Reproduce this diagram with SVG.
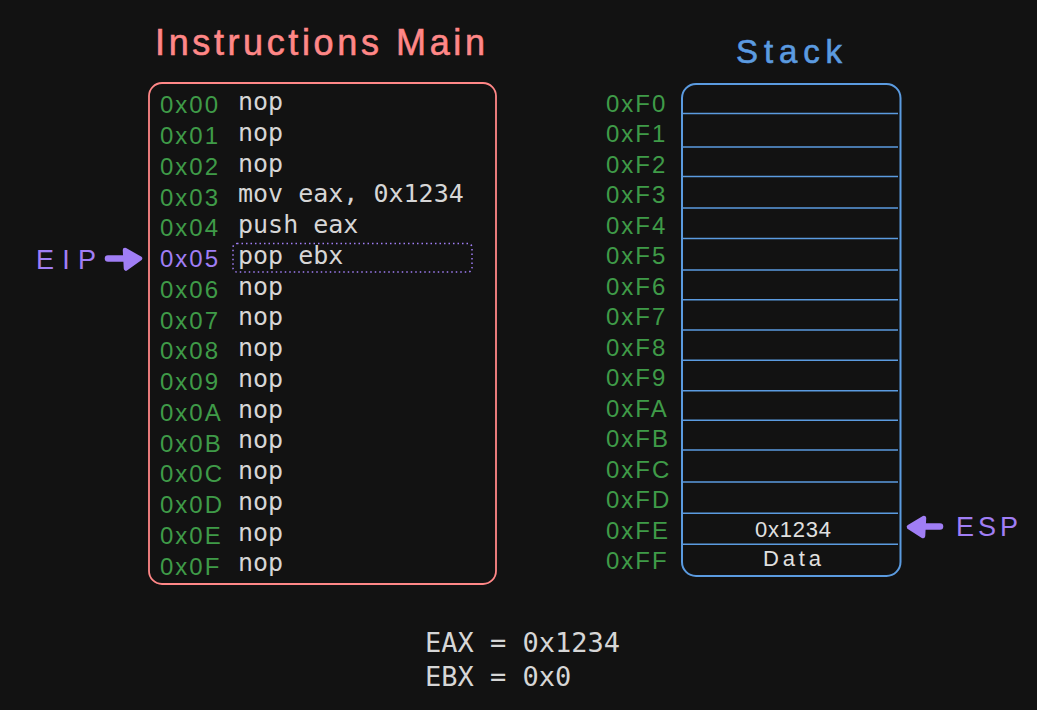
<svg xmlns="http://www.w3.org/2000/svg" width="1037" height="710" viewBox="0 0 1037 710">
<style>
.hand{font-family:"Liberation Sans","Noto Sans",sans-serif;}
.addr{font-family:"Liberation Sans","Noto Sans",sans-serif;font-size:24px;fill:#3f9b48;letter-spacing:2px;}
.ins{font-family:"DejaVu Sans Mono","Liberation Mono",monospace;font-size:25px;fill:#d6d6d6;}
.reg{font-family:"DejaVu Sans Mono","Liberation Mono",monospace;font-size:27px;fill:#d6d6d6;}
.cellline{stroke:#5b9be0;stroke-width:1.6;}
.purple{fill:#a07ef5;}
</style>
<rect x="0" y="0" width="1037" height="710" fill="#121212"/>

<g id="instructions-title">
<text class="hand" x="155" y="55" font-size="36" fill="#ff8787" stroke="#ff8787" stroke-width="0.6" textLength="330" lengthAdjust="spacing">Instructions Main</text>
</g>

<g id="instructions-box">
<rect x="149" y="83" width="347" height="501" rx="13" fill="none" stroke="#ff8787" stroke-width="1.8"/>
<rect x="233" y="243.5" width="239" height="28.5" rx="4" fill="none" stroke="#a07ef5" stroke-width="1.5" stroke-dasharray="1.5 3"/>
<text class="addr" x="160" y="113.3">0x00</text><text class="ins" x="238" y="110">nop</text>
<text class="addr" x="160" y="144">0x01</text><text class="ins" x="238" y="140.7">nop</text>
<text class="addr" x="160" y="174.8">0x02</text><text class="ins" x="238" y="171.5">nop</text>
<text class="addr" x="160" y="205.5">0x03</text><text class="ins" x="238" y="202.2">mov eax, 0x1234</text>
<text class="addr" x="160" y="236.3">0x04</text><text class="ins" x="238" y="233">push eax</text>
<text class="addr" x="160" y="267" style="fill:#a07ef5">0x05</text><text class="ins" x="238" y="263.7">pop ebx</text>
<text class="addr" x="160" y="297.8">0x06</text><text class="ins" x="238" y="294.5">nop</text>
<text class="addr" x="160" y="328.5">0x07</text><text class="ins" x="238" y="325.2">nop</text>
<text class="addr" x="160" y="359.3">0x08</text><text class="ins" x="238" y="356">nop</text>
<text class="addr" x="160" y="390">0x09</text><text class="ins" x="238" y="386.7">nop</text>
<text class="addr" x="160" y="420.8">0x0A</text><text class="ins" x="238" y="417.5">nop</text>
<text class="addr" x="160" y="451.5">0x0B</text><text class="ins" x="238" y="448.2">nop</text>
<text class="addr" x="160" y="482.3">0x0C</text><text class="ins" x="238" y="479">nop</text>
<text class="addr" x="160" y="513">0x0D</text><text class="ins" x="238" y="509.7">nop</text>
<text class="addr" x="160" y="543.8">0x0E</text><text class="ins" x="238" y="540.5">nop</text>
<text class="addr" x="160" y="574.5">0x0F</text><text class="ins" x="238" y="571.2">nop</text>
</g>

<g id="eip">
<text class="hand purple" x="36" y="269" font-size="27" textLength="60" lengthAdjust="spacing">EIP</text>
</g>

<g id="stack-title">
<text class="hand" x="736" y="63" font-size="33" fill="#5b9be0" stroke="#5b9be0" stroke-width="0.6" textLength="106" lengthAdjust="spacing">Stack</text>
</g>

<g id="stack">
<rect x="682" y="84" width="218.5" height="492" rx="14" fill="none" stroke="#5b9be0" stroke-width="2"/>
<line class="cellline" x1="683" y1="113.5" x2="898" y2="113.5"/>
<line class="cellline" x1="683" y1="147" x2="898" y2="147"/>
<line class="cellline" x1="683" y1="176.5" x2="898" y2="176.5"/>
<line class="cellline" x1="683" y1="208" x2="898" y2="208"/>
<line class="cellline" x1="683" y1="238.5" x2="898" y2="238.5"/>
<line class="cellline" x1="683" y1="270" x2="898" y2="270"/>
<line class="cellline" x1="683" y1="299.7" x2="898" y2="299.7"/>
<line class="cellline" x1="683" y1="330" x2="898" y2="330"/>
<line class="cellline" x1="683" y1="360.3" x2="898" y2="360.3"/>
<line class="cellline" x1="683" y1="390.7" x2="898" y2="390.7"/>
<line class="cellline" x1="683" y1="420.3" x2="898" y2="420.3"/>
<line class="cellline" x1="683" y1="450" x2="898" y2="450"/>
<line class="cellline" x1="683" y1="482" x2="898" y2="482"/>
<line class="cellline" x1="683" y1="513.3" x2="898" y2="513.3"/>
<line class="cellline" x1="683" y1="544.3" x2="898" y2="544.3"/>
<text class="hand" x="755" y="536.5" font-size="22" fill="#e0e0e0" textLength="76" lengthAdjust="spacing">0x1234</text>
<text class="hand" x="763" y="566" font-size="22" fill="#e0e0e0" textLength="58" lengthAdjust="spacing">Data</text>
<text class="addr" x="606" y="111.5">0xF0</text>
<text class="addr" x="606" y="142">0xF1</text>
<text class="addr" x="606" y="172.5">0xF2</text>
<text class="addr" x="606" y="203">0xF3</text>
<text class="addr" x="606" y="233.5">0xF4</text>
<text class="addr" x="606" y="264">0xF5</text>
<text class="addr" x="606" y="294.5">0xF6</text>
<text class="addr" x="606" y="325">0xF7</text>
<text class="addr" x="606" y="355.5">0xF8</text>
<text class="addr" x="606" y="386">0xF9</text>
<text class="addr" x="606" y="416.5">0xFA</text>
<text class="addr" x="606" y="447">0xFB</text>
<text class="addr" x="606" y="477.5">0xFC</text>
<text class="addr" x="606" y="508">0xFD</text>
<text class="addr" x="606" y="538.5">0xFE</text>
<text class="addr" x="606" y="569">0xFF</text>
</g>

<g id="esp">
<text class="hand purple" x="956" y="536" font-size="27" textLength="62" lengthAdjust="spacing">ESP</text>
</g>

<g id="registers">
<text class="reg" x="425" y="652.3">EAX = 0x1234</text>
<text class="reg" x="425" y="685.7">EBX = 0x0</text>
</g>

<g id="connectors">
<line x1="108" y1="258.5" x2="128" y2="258.5" stroke="#a07ef5" stroke-width="6.5" stroke-linecap="round"/>
<path d="M125 250 L140 258.5 L126 268.5 Z" fill="#a07ef5" stroke="#a07ef5" stroke-width="4.5" stroke-linejoin="round"/>
<line x1="940" y1="526.5" x2="920" y2="526.5" stroke="#a07ef5" stroke-width="6.5" stroke-linecap="round"/>
<path d="M924 518 L909 527 L923 536 Z" fill="#a07ef5" stroke="#a07ef5" stroke-width="4.5" stroke-linejoin="round"/>
</g>
</svg>
